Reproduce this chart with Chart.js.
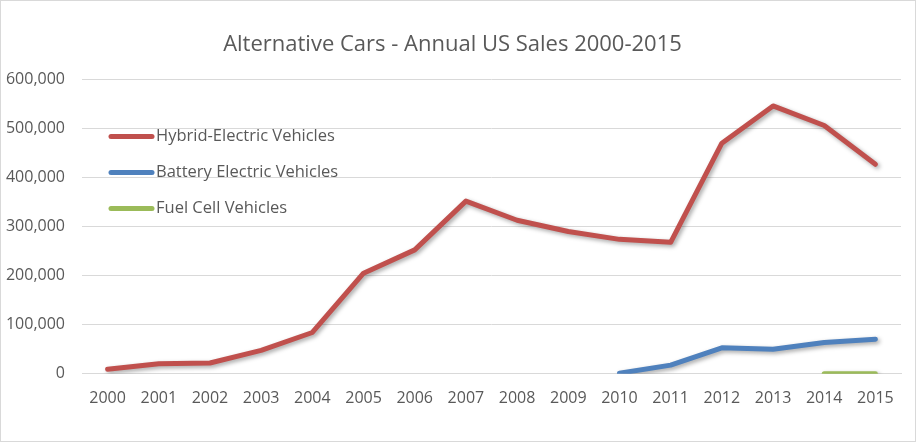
<!DOCTYPE html>
<html>
<head>
<meta charset="utf-8">
<script src="https://cdn.jsdelivr.net/npm/chart.js@4/dist/chart.umd.min.js"></script>
<style>
  html, body { margin: 0; padding: 0; background: #fff; }
  #wrap { width: 914px; height: 440px; border: 1px solid #d9d9d9; position: relative; }
</style>
</head>
<body>
<div id="wrap"><canvas id="sales-chart" width="914" height="440"></canvas></div>
<script>
  var years = ['2000', '2001', '2002', '2003', '2004', '2005', '2006', '2007',
               '2008', '2009', '2010', '2011', '2012', '2013', '2014', '2015'];
  var hybridSales = [9350, 20300, 22000, 47600, 84200, 205000, 252600, 352000,
                     313000, 290000, 274000, 268000, 470000, 546000, 506000, 427000];
  var batterySales = [null, null, null, null, null, null, null, null,
                      null, null, 1200, 17700, 53000, 50000, 64000, 70500];
  var fuelCellSales = [null, null, null, null, null, null, null, null,
                       null, null, null, null, null, null, 10, 100];

  var font = '"Open Sans", "Liberation Sans", sans-serif';

  // soft drop shadow under the lines, like the Excel original
  var lineShadow = {
    id: 'lineShadow',
    beforeDatasetsDraw: function(chart) {
      var ctx = chart.ctx;
      ctx.save();
      ctx.shadowColor = 'rgba(0, 0, 0, 0.35)';
      ctx.shadowBlur = 4;
      ctx.shadowOffsetX = 2;
      ctx.shadowOffsetY = 2;
    },
    afterDatasetsDraw: function(chart) {
      chart.ctx.restore();
    }
  };

  // legend sits inside the plot, top-left, one entry per row
  var innerLegend = {
    id: 'innerLegend',
    afterDraw: function(chart) {
      var ctx = chart.ctx, area = chart.chartArea;
      ctx.save();
      ctx.font = '16.5px ' + font;
      ctx.textBaseline = 'middle';
      ctx.lineCap = 'round';
      chart.data.datasets.forEach(function(ds, i) {
        var y = area.top + 57 + i * 36;
        ctx.strokeStyle = ds.borderColor;
        ctx.lineWidth = 5;
        ctx.beginPath();
        ctx.moveTo(area.left + 29, y);
        ctx.lineTo(area.left + 70, y);
        ctx.stroke();
        ctx.fillStyle = '#595959';
        ctx.fillText(ds.label, area.left + 74, y);
      });
      ctx.restore();
    }
  };

  function series(label, data, color) {
    return {
      label: label, data: data,
      borderColor: color, backgroundColor: color,
      borderWidth: 5, pointRadius: 0, tension: 0,
      borderCapStyle: 'round', borderJoinStyle: 'round'
    };
  }

  new Chart(document.getElementById('sales-chart'), {
    type: 'line',
    data: {
      labels: years,
      datasets: [
        series('Hybrid-Electric Vehicles', hybridSales, '#C0504D'),
        series('Battery Electric Vehicles', batterySales, '#4F81BD'),
        series('Fuel Cell Vehicles', fuelCellSales, '#9BBB59')
      ]
    },
    options: {
      responsive: false,
      animation: false,
      layout: { padding: { left: 3, right: 14, top: 0, bottom: 18 } },
      scales: {
        x: {
          offset: true,
          grid: { display: false, drawTicks: false },
          border: { display: true, color: '#d9d9d9', width: 1 },
          ticks: { color: '#595959', font: { family: font, size: 16 }, padding: 15, maxRotation: 0 }
        },
        y: {
          min: 0, max: 600000,
          grid: { color: '#d9d9d9', drawTicks: false },
          border: { display: false },
          afterFit: function(axis) { axis.width = 78; },
          ticks: {
            stepSize: 100000, color: '#595959', padding: 17,
            font: { family: font, size: 16 },
            callback: function(value) { return value.toLocaleString('en-US'); }
          }
        }
      },
      plugins: {
        tooltip: { enabled: false },
        legend: { display: false },
        title: {
          display: true,
          text: 'Alternative Cars - Annual US Sales 2000-2015',
          color: '#595959',
          font: { family: font, size: 22, weight: 'normal' },
          padding: { top: 31, bottom: 21 }
        }
      }
    },
    plugins: [lineShadow, innerLegend]
  });
</script>
</body>
</html>
